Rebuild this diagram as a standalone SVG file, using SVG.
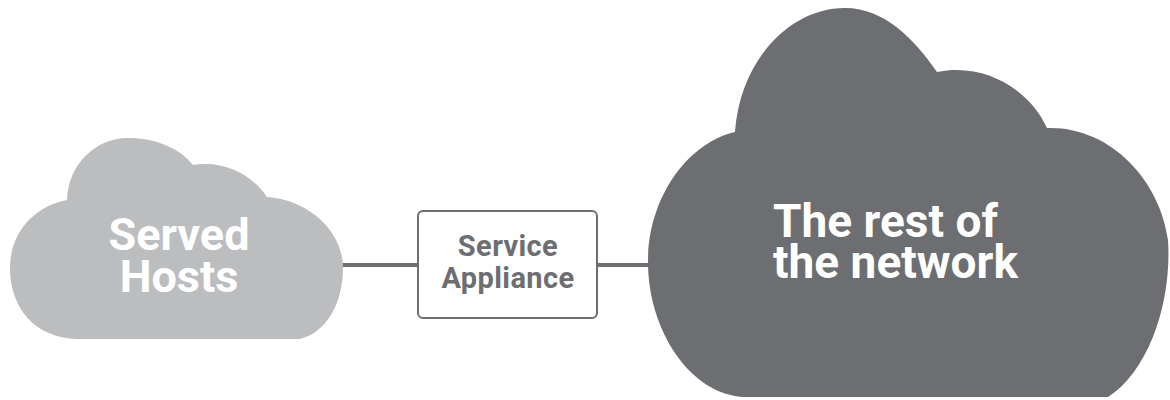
<svg xmlns="http://www.w3.org/2000/svg" width="1170" height="400" viewBox="0 0 1170 400">
<style>
.lbl{font-family:Roboto,"Liberation Sans",sans-serif;font-weight:700}
.w{fill:#ffffff}
.g{fill:#6d6e71}
.conn{stroke:#6d6e71;stroke-width:4;fill:none}
</style>
<rect width="1170" height="400" fill="#ffffff"/>
<g id="connectors">
<line class="conn" x1="340" y1="265" x2="419" y2="265"/>
<line class="conn" x1="596" y1="265" x2="655" y2="265"/>
</g>
<g id="served-hosts">
<path fill="#bcbdbf" d="M 77 339 C 35 338, 10 308, 10 268 C 10 232, 35 206, 67 200 C 68 165, 95 138, 128 138 C 155 138, 180 148, 193 165 C 225 160, 252 175, 267 197 C 310 200, 343 232, 343 268 C 343 305, 325 333, 300 339 Z"/>
<text class="lbl w" font-size="45" text-anchor="middle"><tspan x="179" y="250">Served</tspan><tspan x="179" y="292">Hosts</tspan></text>
</g>
<g id="service-appliance">
<rect x="418" y="211" width="179" height="107" rx="5" fill="#ffffff" stroke="#6d6e71" stroke-width="2"/>
<text class="lbl g" font-size="29" letter-spacing="0.4" text-anchor="middle"><tspan x="508" y="256">Service</tspan><tspan x="508" y="288">Appliance</tspan></text>
</g>
<g id="rest-of-network">
<path fill="#6d6e71" d="M 745 397 C 690 395, 648 330, 648 262 C 648 195, 690 142, 735 132 C 740 60, 790 8, 845 8 C 885 8, 915 40, 937 72 C 985 62, 1030 90, 1047 128 C 1110 126, 1160 180, 1168 240 C 1172 300, 1150 370, 1108 397 Z"/>
<text class="lbl w" font-size="46"><tspan x="773" y="237">The rest of</tspan><tspan x="773" y="278">the network</tspan></text>
</g>
</svg>
